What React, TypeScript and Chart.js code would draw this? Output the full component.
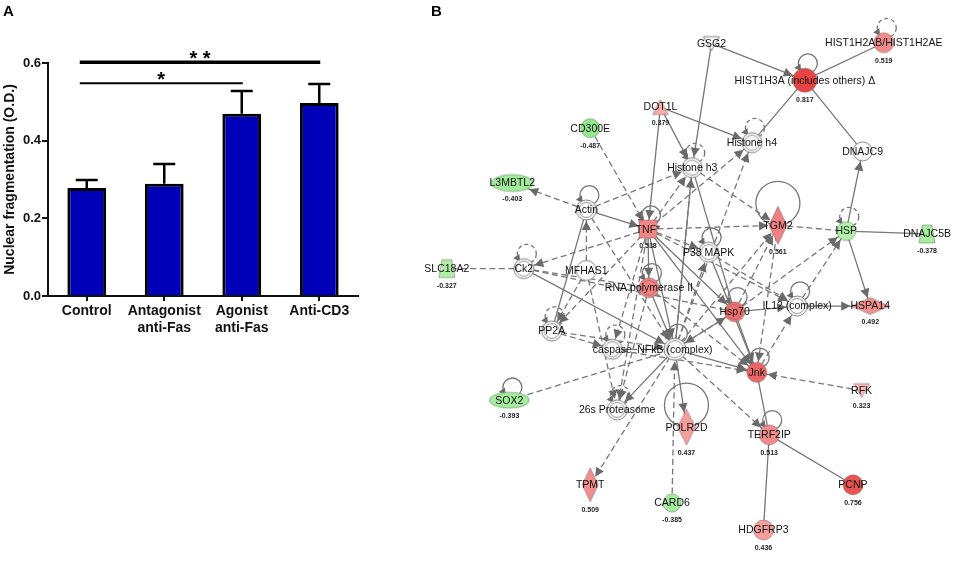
import React, { useEffect, useRef } from 'react';
import { Chart, registerables } from 'chart.js';

Chart.register(...registerables);

const FONT = "'Liberation Sans', Arial, Helvetica, sans-serif";

// ---------------- Panel A data ----------------
const categories: string[][] = [['Control'], ['Antagonist', 'anti-Fas'], ['Agonist', 'anti-Fas'], ['Anti-CD3']];
const meanValues = [0.278, 0.289, 0.469, 0.497];
const semValues = [0.021, 0.051, 0.059, 0.049];
const yTickValues = [0, 0.2, 0.4, 0.6];
const yTitle = 'Nuclear fragmentation (O.D.)';
const sigFrom = [0, 0];
const sigTo = [2, 3];
const sigLevel = [0.548, 0.602];
const sigMark = ['*', '* *'];

// ---------------- Panel B data ----------------
const nodeIds = ['GSG2', 'H2AB', 'H3A', 'DOT1L', 'CD300E', 'H4', 'DNAJC9', 'H3', 'L3MBTL2', 'Actin', 'TNF', 'TGM2', 'HSP', 'DNAJC5B', 'P38', 'Ck2', 'SLC18A2', 'MFHAS1', 'RNAP', 'IL12', 'HSPA14', 'Hsp70', 'PP2A', 'casp', 'NFkB', 'Jnk', 'RFK', 'SOX2', '26S', 'POLR2D', 'TERF2IP', 'TPMT', 'PCNP', 'CARD6', 'HDGFRP3'];
const nodeLabels = ['GSG2', 'HIST1H2AB/HIST1H2AE', 'HIST1H3A (includes others) Δ', 'DOT1L', 'CD300E', 'Histone h4', 'DNAJC9', 'Histone h3', 'L3MBTL2', 'Actin', 'TNF*', 'TGM2', 'HSP', 'DNAJC5B', 'P38 MAPK', 'Ck2', 'SLC18A2', 'MFHAS1', 'RNA polymerase II', 'IL12 (complex)', 'HSPA14', 'Hsp70', 'PP2A', 'caspase', 'NFkB (complex)', 'Jnk', 'RFK', 'SOX2', '26s Proteasome', 'POLR2D', 'TERF2IP', 'TPMT', 'PCNP', 'CARD6', 'HDGFRP3'];
const nodeValues: (number | null)[] = [null, 0.519, 0.817, 0.379, -0.487, null, null, null, -0.403, null, 0.538, 0.561, null, -0.378, null, null, -0.327, null, null, null, 0.492, null, null, null, null, null, 0.323, -0.393, null, 0.437, 0.513, 0.509, 0.756, -0.385, 0.436];
// colouring tone for group nodes that carry no printed value
const groupTone: Record<string, number> = { HSP: -0.32, RNAP: 0.55, Hsp70: 0.62, Jnk: 0.68 };
const nodeShapes = ['triDown', 'circle', 'circle', 'triUp', 'circle', 'group', 'ring', 'group', 'ellipse', 'group', 'square', 'diamond', 'circle', 'trap', 'group', 'group', 'trap', 'ring', 'group', 'group', 'diamond', 'group', 'group', 'group', 'group', 'circle', 'triDown', 'ellipse', 'group', 'diamond', 'circle', 'diamond', 'circle', 'circle', 'circle'];
// layout coordinates of the network
const nodeX = [713, 892, 810, 660, 587, 755, 870, 693, 506, 583, 647, 782, 853, 937, 710, 518, 438, 583, 648, 802, 878, 737, 547, 610, 675, 760, 869, 503, 615, 687, 773, 587, 860, 672, 767];
const nodeY = [34, 33, 72, 100, 122, 137, 146, 163, 179, 207, 227, 223, 229, 232, 251, 268, 268, 270, 288, 307, 307, 313, 333, 352, 352, 376, 395, 405, 415, 433, 441, 493, 493, 512, 540];
const nodeW = [16, 20, 24, 16, 19, 20, 19, 20, 42, 20, 18, 18, 19, 16, 20, 20, 16, 20, 20, 20, 38, 20, 20, 20, 22, 20, 16, 40, 20, 18, 20, 16, 20, 18, 20];
const nodeH = [14, 20, 24, 15, 19, 20, 19, 20, 17, 20, 18, 38, 19, 18, 20, 20, 18, 20, 20, 20, 17, 20, 20, 20, 22, 20, 14, 16, 20, 36, 20, 34, 20, 18, 20];

// [from, to, dashed, arrow]
const edges: [string, string, number, number][] = [
  ['GSG2', 'H3', 0, 1], ['GSG2', 'H3A', 0, 1], ['H2AB', 'H3A', 0, 0], ['H3A', 'H4', 0, 0], ['H3A', 'DNAJC9', 0, 0],
  ['DOT1L', 'H4', 0, 1], ['DOT1L', 'H3', 0, 1], ['DOT1L', 'TNF', 0, 1], ['HSP', 'DNAJC9', 0, 1], ['HSP', 'DNAJC5B', 0, 0],
  ['HSP', 'HSPA14', 0, 1], ['IL12', 'HSPA14', 0, 1], ['Hsp70', 'IL12', 0, 1], ['Jnk', 'TERF2IP', 0, 0], ['TERF2IP', 'PCNP', 0, 0],
  ['TERF2IP', 'HDGFRP3', 0, 0], ['Actin', 'TNF', 0, 1], ['Ck2', 'NFkB', 0, 1], ['PP2A', 'Actin', 0, 0], ['TNF', 'NFkB', 0, 1],
  ['TNF', 'RNAP', 0, 1], ['TNF', 'Hsp70', 0, 1], ['TNF', 'Jnk', 0, 1], ['H3', 'Hsp70', 0, 0], ['H3', 'NFkB', 0, 0],
  ['NFkB', 'Jnk', 0, 1], ['NFkB', 'POLR2D', 0, 1], ['NFkB', '26S', 0, 1], ['Hsp70', 'Jnk', 0, 1], ['Hsp70', 'NFkB', 0, 1],
  ['P38', 'Jnk', 0, 0], ['RNAP', 'NFkB', 0, 1],
  ['CD300E', 'TNF', 1, 1], ['Actin', 'L3MBTL2', 1, 1], ['Actin', 'H3', 1, 1], ['Ck2', 'SLC18A2', 1, 0], ['TNF', 'Ck2', 1, 1],
  ['TNF', 'H3', 1, 1], ['TNF', 'H4', 1, 1], ['TNF', 'TGM2', 1, 1], ['TGM2', 'HSP', 1, 0], ['TNF', 'P38', 1, 1],
  ['TNF', 'PP2A', 1, 1], ['TNF', 'casp', 1, 1], ['TNF', '26S', 1, 1], ['TNF', 'IL12', 1, 1], ['MFHAS1', 'Actin', 1, 1],
  ['MFHAS1', 'PP2A', 1, 1], ['MFHAS1', '26S', 1, 1], ['Ck2', 'Hsp70', 1, 0], ['PP2A', 'casp', 1, 1], ['PP2A', 'NFkB', 1, 1],
  ['casp', 'NFkB', 1, 0], ['SOX2', 'NFkB', 1, 0], ['NFkB', 'TPMT', 1, 1], ['NFkB', 'TERF2IP', 1, 1], ['CARD6', 'NFkB', 1, 1],
  ['RFK', 'Jnk', 1, 1], ['Jnk', 'IL12', 1, 1], ['Hsp70', 'TGM2', 1, 1], ['Hsp70', 'HSP', 1, 1], ['IL12', 'HSP', 1, 1],
  ['P38', 'IL12', 1, 1], ['H3', 'TGM2', 1, 1], ['NFkB', 'H4', 1, 1], ['NFkB', 'H3', 1, 1], ['NFkB', 'P38', 1, 1],
  ['NFkB', 'TGM2', 1, 1], ['RNAP', '26S', 1, 1], ['TGM2', 'Jnk', 1, 1], ['casp', 'Jnk', 1, 1], ['NFkB', 'Hsp70', 1, 1],
  ['RNAP', 'Jnk', 1, 1], ['Actin', 'NFkB', 1, 1], ['Ck2', 'RNAP', 1, 0],
];
const loopNodes = ['H2AB', 'H3A', 'H4', 'H3', 'Actin', 'TNF', 'TGM2', 'HSP', 'P38', 'Ck2', 'RNAP', 'IL12', 'Hsp70', 'PP2A', 'casp', 'NFkB', 'Jnk', 'SOX2', '26S', 'POLR2D', 'TERF2IP'];
const loopDashed = ['H2AB', 'H4', 'H3', 'HSP', 'Ck2', 'PP2A', 'casp', '26S'];

const idx = (id: string) => nodeIds.indexOf(id);

function toneOf(i: number): number | null {
  const v = nodeValues[i];
  if (v !== null) return v;
  const g = groupTone[nodeIds[i]];
  return g === undefined ? null : g;
}

function toneColor(t: number | null): string {
  if (t === null) return '#ffffff';
  const lerp = (a: number[], b: number[], k: number) =>
    `rgb(${a.map((v, j) => Math.round(v + (b[j] - v) * k)).join(',')})`;
  if (t >= 0) return lerp([249, 190, 190], [232, 60, 60], Math.min(1, Math.max(0, (t - 0.3) / 0.55)));
  return lerp([180, 242, 170], [134, 228, 134], Math.min(1, Math.max(0, (-t - 0.3) / 0.25)));
}

function nodeImage(shape: string, fill: string, w: number, h: number): HTMLCanvasElement {
  const c = document.createElement('canvas');
  c.width = Math.ceil(w + 4);
  c.height = Math.ceil(h + 4);
  const g = c.getContext('2d')!;
  const cx = c.width / 2;
  const cy = c.height / 2;
  const white = fill === '#ffffff';
  g.fillStyle = fill;
  g.lineWidth = 1;
  g.strokeStyle = white ? '#808080' : 'rgba(90,90,90,0.45)';
  g.beginPath();
  if (shape === 'circle' || shape === 'ring' || shape === 'group') g.arc(cx, cy, w / 2, 0, Math.PI * 2);
  else if (shape === 'ellipse') g.ellipse(cx, cy, w / 2, h / 2, 0, 0, Math.PI * 2);
  else if (shape === 'square') g.rect(cx - w / 2, cy - h / 2, w, h);
  else if (shape === 'diamond') {
    g.moveTo(cx, cy - h / 2); g.lineTo(cx + w / 2, cy); g.lineTo(cx, cy + h / 2); g.lineTo(cx - w / 2, cy); g.closePath();
  } else if (shape === 'triUp') {
    g.moveTo(cx, cy - h / 2); g.lineTo(cx + w / 2, cy + h / 2); g.lineTo(cx - w / 2, cy + h / 2); g.closePath();
  } else if (shape === 'triDown') {
    g.moveTo(cx - w / 2, cy - h / 2); g.lineTo(cx + w / 2, cy - h / 2); g.lineTo(cx, cy + h / 2); g.closePath();
  } else if (shape === 'trap') {
    g.moveTo(cx - w * 0.3, cy - h / 2); g.lineTo(cx + w * 0.3, cy - h / 2); g.lineTo(cx + w / 2, cy + h / 2); g.lineTo(cx - w / 2, cy + h / 2); g.closePath();
  }
  g.fill();
  g.stroke();
  if (shape === 'group') {
    g.beginPath();
    g.arc(cx, cy, w / 2 - 2.5, 0, Math.PI * 2);
    g.strokeStyle = white ? '#959595' : 'rgba(150,70,70,0.45)';
    g.stroke();
  }
  return c;
}

function boundary(i: number, dx: number, dy: number): number {
  const a = nodeW[i] / 2 + 1;
  const b = nodeH[i] / 2 + 1;
  if (nodeShapes[i] === 'diamond') return 1 / (Math.abs(dx) / a + Math.abs(dy) / b);
  return 1 / Math.sqrt((dx / a) ** 2 + (dy / b) ** 2);
}

function arrowHead(ctx: CanvasRenderingContext2D, tx: number, ty: number, dx: number, dy: number, len = 9, half = 4.6) {
  const bx = tx - dx * len;
  const by = ty - dy * len;
  ctx.beginPath();
  ctx.moveTo(tx, ty);
  ctx.lineTo(bx - dy * half, by + dx * half);
  ctx.lineTo(bx + dy * half, by - dx * half);
  ctx.closePath();
  ctx.fill();
}

const barDecor = {
  id: 'barDecor',
  afterDatasetsDraw(chart: any) {
    const { ctx } = chart;
    const x = chart.scales.x;
    const y = chart.scales.y;
    const meta = chart.getDatasetMeta(0);
    ctx.save();
    ctx.strokeStyle = '#000';
    ctx.fillStyle = '#000';
    ctx.lineWidth = 2.5;
    meta.data.forEach((bar: any, i: number) => {
      const top = y.getPixelForValue(meanValues[i] + semValues[i]);
      ctx.beginPath();
      ctx.moveTo(bar.x, bar.y);
      ctx.lineTo(bar.x, top);
      ctx.moveTo(bar.x - 11, top);
      ctx.lineTo(bar.x + 11, top);
      ctx.stroke();
    });
    sigFrom.forEach((f, i) => {
      const x1 = x.getPixelForValue(f) - 7;
      const x2 = x.getPixelForValue(sigTo[i]) + 1;
      const yy = y.getPixelForValue(sigLevel[i]);
      ctx.lineWidth = sigMark[i].length > 1 ? 3.5 : 2;
      ctx.beginPath();
      ctx.moveTo(x1, yy);
      ctx.lineTo(x2, yy);
      ctx.stroke();
      ctx.font = `bold 20px ${FONT}`;
      ctx.textAlign = 'center';
      ctx.textBaseline = 'alphabetic';
      ctx.fillText(sigMark[i], (x1 + x2) / 2, yy + 3);
    });
    ctx.font = `bold 15px ${FONT}`;
    ctx.textAlign = 'left';
    ctx.fillText('A', 3, 15.5);
    ctx.restore();
  },
};

const netDecor = {
  id: 'netDecor',
  beforeDatasetsDraw(chart: any) {
    const { ctx } = chart;
    const sx = chart.scales.x;
    const sy = chart.scales.y;
    ctx.save();
    ctx.strokeStyle = '#777';
    ctx.fillStyle = '#6a6a6a';
    ctx.lineWidth = 1.3;
    loopNodes.forEach((id) => {
      const i = idx(id);
      const px = sx.getPixelForValue(nodeX[i]);
      const py = sy.getPixelForValue(nodeY[i]);
      const h = nodeH[i];
      const big = h > 30;
      const R = big ? 22 : 9.5;
      const cx = px + (big ? 0 : 3);
      const cy = big ? py - R : py - h / 2 - R * 0.5;
      ctx.setLineDash(loopDashed.includes(id) ? [4, 3] : []);
      ctx.beginPath();
      ctx.arc(cx, cy, R, 0, Math.PI * 2);
      ctx.stroke();
      if (!big) {
        const a = Math.PI * 0.8;
        const tx = cx + R * Math.cos(a);
        const ty = cy + R * Math.sin(a);
        ctx.setLineDash([]);
        arrowHead(ctx, tx + 1, ty + 2, Math.sin(a), -Math.cos(a), 6.5, 3.8);
      }
    });
    ctx.restore();
  },
  afterDatasetsDraw(chart: any) {
    const { ctx } = chart;
    const sx = chart.scales.x;
    const sy = chart.scales.y;
    ctx.save();
    ctx.fillStyle = '#6a6a6a';
    edges.forEach(([a, b, , arrow]) => {
      if (!arrow) return;
      const ia = idx(a);
      const ib = idx(b);
      const ax = sx.getPixelForValue(nodeX[ia]);
      const ay = sy.getPixelForValue(nodeY[ia]);
      const bx = sx.getPixelForValue(nodeX[ib]);
      const by = sy.getPixelForValue(nodeY[ib]);
      const L = Math.hypot(bx - ax, by - ay);
      const dx = (bx - ax) / L;
      const dy = (by - ay) / L;
      const r = boundary(ib, dx, dy);
      arrowHead(ctx, bx - dx * r, by - dy * r, dx, dy);
    });
    ctx.textAlign = 'center';
    ctx.textBaseline = 'middle';
    nodeIds.forEach((_, i) => {
      const px = sx.getPixelForValue(nodeX[i]);
      const py = sy.getPixelForValue(nodeY[i]);
      ctx.fillStyle = '#111';
      ctx.font = `10.5px ${FONT}`;
      ctx.fillText(nodeLabels[i], px, py + 0.5);
      const v = nodeValues[i];
      if (v !== null) {
        ctx.fillStyle = '#222';
        ctx.font = `bold 7px ${FONT}`;
        ctx.fillText(v.toFixed(3), px, py + nodeH[i] / 2 + 8);
      }
    });
    ctx.fillStyle = '#000';
    ctx.font = `bold 15px ${FONT}`;
    ctx.textAlign = 'left';
    ctx.textBaseline = 'alphabetic';
    ctx.fillText('B', chart.chartArea.left + 40, 15.5);
    ctx.restore();
  },
};

export default function App() {
  const barRef = useRef<HTMLCanvasElement>(null);
  const netRef = useRef<HTMLCanvasElement>(null);

  useEffect(() => {
    const axisGrid = (len: number) => ({
      display: true,
      drawOnChartArea: false,
      drawTicks: true,
      tickLength: len,
      color: '#111',
      lineWidth: 2,
      offset: false,
    });
    const barChart = new Chart(barRef.current as HTMLCanvasElement, {
      type: 'bar',
      data: {
        labels: categories as any,
        datasets: [
          {
            data: meanValues,
            backgroundColor: '#0000B8',
            borderColor: '#000',
            borderWidth: 3,
            barPercentage: 0.5,
            categoryPercentage: 1,
          },
        ],
      },
      options: {
        responsive: false,
        animation: false,
        events: [],
        layout: { padding: { left: 0, top: 63, right: 22, bottom: 209 } },
        plugins: { legend: { display: false }, tooltip: { enabled: false } },
        scales: {
          x: {
            grid: axisGrid(5) as any,
            border: { display: true, color: '#111', width: 2 },
            ticks: {
              color: '#111',
              font: { family: FONT, size: 14, weight: 'bold', lineHeight: 1.2 },
              padding: 2,
              maxRotation: 0,
              autoSkip: false,
            },
            afterFit: (s: any) => {
              s.height = 60;
            },
          },
          y: {
            min: 0,
            max: 0.6,
            grid: axisGrid(6) as any,
            border: { display: true, color: '#111', width: 2 },
            afterBuildTicks: (s: any) => {
              s.ticks = yTickValues.map((v) => ({ value: v }));
            },
            ticks: {
              color: '#111',
              font: { family: FONT, size: 13, weight: 'bold' },
              padding: 1,
              callback: (v: any) => Number(v).toFixed(1),
            },
            title: {
              display: true,
              text: yTitle,
              color: '#111',
              font: { family: FONT, size: 14, weight: 'bold', lineHeight: 1.2 },
              padding: { top: 2, bottom: 0 },
            },
            afterFit: (s: any) => {
              s.width = 48;
            },
          },
        },
      },
      plugins: [barDecor],
    } as any);

    const edgeSets = edges.map(([a, b, dashed]) => {
      const ia = idx(a);
      const ib = idx(b);
      return {
        data: [
          { x: nodeX[ia], y: nodeY[ia] },
          { x: nodeX[ib], y: nodeY[ib] },
        ],
        showLine: true,
        borderColor: '#777777',
        borderWidth: 1.3,
        borderDash: dashed ? [6, 3.5] : [],
        pointRadius: 0,
        pointHoverRadius: 0,
        fill: false,
        tension: 0,
        order: 2,
      };
    });
    const nodeSet = {
      data: nodeX.map((x, i) => ({ x, y: nodeY[i] })),
      pointStyle: nodeIds.map((_, i) => nodeImage(nodeShapes[i], toneColor(toneOf(i)), nodeW[i], nodeH[i])),
      pointRadius: 10,
      pointHoverRadius: 10,
      showLine: false,
      order: 0,
    };

    const netChart = new Chart(netRef.current as HTMLCanvasElement, {
      type: 'scatter',
      data: { datasets: [...edgeSets, nodeSet] as any },
      options: {
        responsive: false,
        animation: false,
        events: [],
        layout: { padding: 0 },
        plugins: { legend: { display: false }, tooltip: { enabled: false } },
        scales: {
          x: { type: 'linear', display: false, min: 380, max: 965 },
          y: { type: 'linear', display: false, min: 0, max: 565, reverse: true },
        },
      },
      plugins: [netDecor],
    } as any);

    return () => {
      barChart.destroy();
      netChart.destroy();
    };
  }, []);

  return (
    <div style={{ position: 'absolute', left: 0, top: 0, width: 965, height: 565, background: '#fff' }}>
      <canvas ref={barRef} width={380} height={565} style={{ position: 'absolute', left: 0, top: 0, width: 380, height: 565 }} />
      <canvas ref={netRef} width={585} height={565} style={{ position: 'absolute', left: 380, top: 0, width: 585, height: 565 }} />
    </div>
  );
}
